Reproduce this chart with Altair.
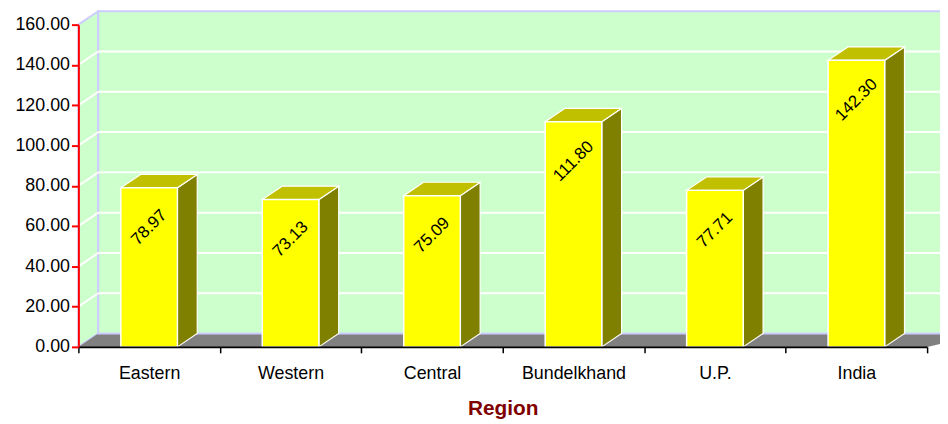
import altair as alt
import pandas as pd

# ---- data ----
categories = ["Eastern", "Western", "Central", "Bundelkhand", "U.P.", "India"]
values = [78.97, 73.13, 75.09, 111.80, 77.71, 142.30]
y_ticks = [0, 20, 40, 60, 80, 100, 120, 140, 160]
x_title = "Region"

# ---- style (pseudo-3D depth, in data units) ----
N = len(categories)
YMAX = y_ticks[-1]
W, H = 856, 325
BAND_L, BAND_R = 0.30, 0.70
DX = 20 / (W / N)          # depth in x (20 px)
DY = 13.5 / (H / YMAX)     # depth in y (13.5 px)
FONT = "Liberation Sans"

xs = alt.Scale(domain=[0, N], nice=False, zero=False)
ys = alt.Scale(domain=[0, YMAX], nice=False, zero=False)

label_expr = "[" + ",".join("'" + c + "'" for c in categories) + "][datum.value] || ''"
AX = alt.Axis(
    values=list(range(N + 1)), labelExpr=label_expr, labelOffset=W / N / 2,
    labelFlush=False, labelOverlap=False, labelAlign="center",
    tickSize=6, tickColor="black", tickWidth=1.5,
    domainColor="black", domainWidth=2,
    labelFont=FONT, labelFontSize=18, labelColor="black", labelPadding=12,
    title=x_title, titleFont=FONT, titleFontSize=21, titleFontWeight="bold",
    titleColor="#800000", titlePadding=15, grid=False, zindex=1)
AY = alt.Axis(
    values=y_ticks, format=".2f", domainColor="red", domainWidth=2,
    tickColor="red", tickWidth=2, tickSize=7, labelPadding=2,
    labelFont=FONT, labelFontSize=18, labelColor="black",
    grid=False, title=None, zindex=1)

idx = list(range(N))
front = pd.DataFrame({
    "cat": categories,
    "x": [i + BAND_L for i in idx],
    "x2": [i + BAND_R for i in idx],
    "xc": [i + 0.5 for i in idx],
    "v": values,
    "label": [f"{v:.2f}" for v in values],
})

side = pd.DataFrame({
    "cat": categories + categories,
    "sx": [i + BAND_R for i in idx] + [i + BAND_R + DX for i in idx],
    "lo": [0.0] * N + [DY] * N,
    "hi": values + [v + DY for v in values],
})

top = pd.DataFrame({
    "cat": categories + categories,
    "ty": values + [v + DY for v in values],
    "xl": [i + BAND_L for i in idx] + [i + BAND_L + DX for i in idx],
    "xr": [i + BAND_R for i in idx] + [i + BAND_R + DX for i in idx],
})

left_wall = pd.DataFrame({"wx": [0.0, DX], "lo": [0.0, DY], "hi": [YMAX, YMAX + DY]})
floor = pd.DataFrame({"fy": [0.0, DY], "xl": [0.0, DX], "xr": [N, N + DX + 0.3]})
back_wall = pd.DataFrame({"x": [DX], "x2": [N + DX + 0.3], "y": [DY], "y2": [YMAX + DY]})

grid_vals = y_ticks[1:-1]
grid_back = pd.DataFrame({"x": [DX] * len(grid_vals), "x2": [N + DX + 0.3] * len(grid_vals),
                          "y": [v + DY for v in grid_vals]})
grid_diag = pd.DataFrame({"x": [0.0] * len(grid_vals), "x2": [DX] * len(grid_vals),
                          "y": grid_vals, "y2": [v + DY for v in grid_vals]})

GREEN = "#ccffcc"
LAV = "#ccccff"

lw = alt.Chart(left_wall).mark_area(fill=GREEN, stroke=LAV, strokeWidth=2, opacity=1).encode(
    x=alt.X("wx:Q", scale=xs, axis=AX),
    y=alt.Y("lo:Q", scale=ys, axis=AY),
    y2="hi:Q",
)
fl = alt.Chart(floor).mark_area(orient="horizontal", fill="#808080", opacity=1).encode(
    y=alt.Y("fy:Q", scale=ys, axis=AY),
    x=alt.X("xl:Q", scale=xs, axis=AX),
    x2="xr:Q",
)
bw = alt.Chart(back_wall).mark_rect(fill=GREEN, stroke=LAV, strokeWidth=2).encode(
    x=alt.X("x:Q", scale=xs, axis=AX), x2="x2:Q",
    y=alt.Y("y:Q", scale=ys, axis=AY), y2="y2:Q",
)
gb = alt.Chart(grid_back).mark_rule(color="white", strokeWidth=2).encode(
    x=alt.X("x:Q", scale=xs, axis=AX), x2="x2:Q",
    y=alt.Y("y:Q", scale=ys, axis=AY),
)
gd = alt.Chart(grid_diag).mark_rule(color="white", strokeWidth=2).encode(
    x=alt.X("x:Q", scale=xs, axis=AX), x2="x2:Q",
    y=alt.Y("y:Q", scale=ys, axis=AY), y2="y2:Q",
)

sd = alt.Chart(side).mark_area(fill="#808000", stroke="white", strokeWidth=1.2, opacity=1).encode(
    x=alt.X("sx:Q", scale=xs, axis=AX),
    y=alt.Y("lo:Q", scale=ys, axis=AY),
    y2="hi:Q",
    detail="cat:N",
)
tp = alt.Chart(top).mark_area(orient="horizontal", fill="#c0c000", stroke="white",
                              strokeWidth=1.2, opacity=1).encode(
    y=alt.Y("ty:Q", scale=ys, axis=AY),
    x=alt.X("xl:Q", scale=xs, axis=AX),
    x2="xr:Q",
    detail="cat:N",
)

fr = alt.Chart(front).mark_rect(fill="#ffff00", stroke="white", strokeWidth=1.5).encode(
    x=alt.X("x:Q", scale=xs, axis=AX),
    x2="x2:Q",
    y=alt.Y("v:Q", scale=ys, axis=AY),
    y2=alt.datum(0),
)

tx = alt.Chart(front).mark_text(angle=315, fontSize=17, font=FONT, color="black",
                                align="center", baseline="middle", yOffset=40).encode(
    x=alt.X("xc:Q", scale=xs, axis=AX),
    y=alt.Y("v:Q", scale=ys, axis=AY),
    text="label:N",
)

chart = alt.layer(lw, fl, bw, gb, gd, sd, tp, fr, tx).properties(
    width=W, height=H,
    autosize=alt.AutoSizeParams(type="none"),
    padding={"left": 71, "top": 15, "right": 13, "bottom": 76},
    background="white",
).configure_view(stroke=None)

chart.save("out.html", embed_options={"renderer": "svg", "actions": False})
